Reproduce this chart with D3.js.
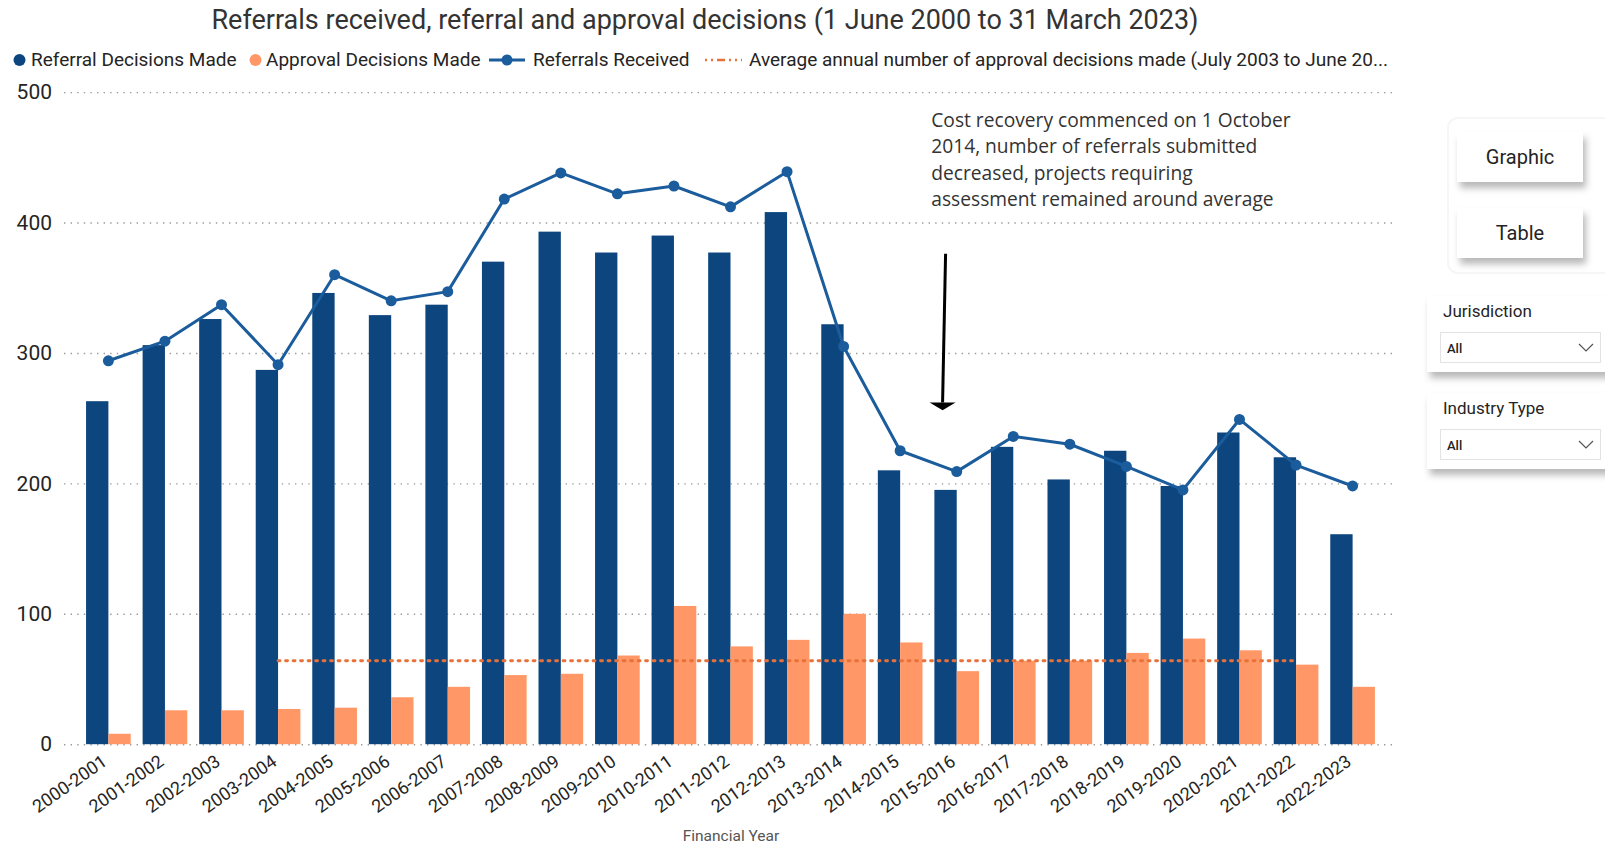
<!DOCTYPE html>
<html>
<head>
<meta charset="utf-8">
<script src="https://cdn.jsdelivr.net/npm/d3@7"></script>
<style>
  html, body { margin: 0; padding: 0; background: #ffffff; }
  svg { display: block; }
</style>
</head>
<body>
<svg id="chart" width="1605" height="847" font-family="Roboto, 'DejaVu Sans', sans-serif"></svg>
<script>
// Financial years shown on the x axis
const categories = [
  "2000-2001","2001-2002","2002-2003","2003-2004","2004-2005","2005-2006",
  "2006-2007","2007-2008","2008-2009","2009-2010","2010-2011","2011-2012",
  "2012-2013","2013-2014","2014-2015","2015-2016","2016-2017","2017-2018",
  "2018-2019","2019-2020","2020-2021","2021-2022","2022-2023"
];
// Referral decisions made per year (dark blue bars)
const referralDecisions = [263,306,326,287,346,329,337,370,393,377,390,377,408,322,210,195,228,203,225,198,239,220,161];
// Approval decisions made per year (orange bars)
const approvalDecisions = [8,26,26,27,28,36,44,53,54,68,106,75,80,100,78,56,64,64,70,81,72,61,44];
// Referrals received per year (line)
const referralsReceived = [294,309,337,291,360,340,347,418,438,422,428,412,439,305,225,209,236,230,213,195,249,214,198];
// Average annual approval decisions, July 2003 to June 2022
const avgApproval = 64;
const avgSpan = ["2003-2004", "2021-2022"];
const yTicks = [0, 100, 200, 300, 400, 500];

const svg = d3.select("#chart");
const colBlue = "#0d467e", colOrange = "#ff9866", colLine = "#1b5c9c", colAvg = "#e8713a";
const textDark = "#252423";

const x = d3.scaleBand().domain(categories).range([64, 1397]).paddingInner(0.21).paddingOuter(0.39);
const y = d3.scaleLinear().domain([0, 500]).range([744.2, 92.1]);
const half = x.bandwidth() / 2;
const cx = c => x(c) + half;

// Title
svg.append("text").attr("x", 705).attr("y", 29).attr("text-anchor", "middle")
  .attr("font-size", 27).attr("fill", "#333").text("Referrals received, referral and approval decisions (1 June 2000 to 31 March 2023)");

// Legend
const lg = svg.append("g").attr("font-size", 19).attr("fill", textDark);
lg.append("circle").attr("cx", 19.5).attr("cy", 60).attr("r", 6).attr("fill", colBlue);
lg.append("text").attr("x", 31).attr("y", 66).text("Referral Decisions Made");
lg.append("circle").attr("cx", 255.5).attr("cy", 60).attr("r", 6).attr("fill", colOrange);
lg.append("text").attr("x", 266).attr("y", 66).text("Approval Decisions Made");
lg.append("line").attr("x1", 489).attr("x2", 525).attr("y1", 60).attr("y2", 60).attr("stroke", colLine).attr("stroke-width", 3);
lg.append("circle").attr("cx", 507).attr("cy", 60).attr("r", 5.5).attr("fill", colLine);
lg.append("text").attr("x", 533).attr("y", 66).text("Referrals Received");
lg.append("line").attr("x1", 705).attr("x2", 742).attr("y1", 60).attr("y2", 60).attr("stroke", colAvg)
  .attr("stroke-width", 2.5).attr("stroke-dasharray", "2,4,2,4,8,4");
lg.append("text").attr("x", 749).attr("y", 66).text("Average annual number of approval decisions made (July 2003 to June 20...");

// Gridlines and y-axis labels
const yAxis = d3.axisLeft(y).tickValues(yTicks).tickSize(-(1397 - 64)).tickPadding(12);
const gy = svg.append("g").attr("transform", "translate(64,0)").call(yAxis);
gy.select(".domain").remove();
gy.selectAll(".tick line").attr("stroke", "#9a9a9a").attr("stroke-width", 1.4).attr("stroke-dasharray", "1.4,5.2");
gy.selectAll(".tick text").attr("font-size", 21).attr("fill", textDark).attr("font-family", "Roboto, sans-serif");

// Bars
const groups = svg.append("g").selectAll("g").data(categories).join("g");
groups.append("rect").attr("x", c => x(c)).attr("width", half)
  .attr("y", (c, i) => y(referralDecisions[i])).attr("height", (c, i) => y(0) - y(referralDecisions[i]))
  .attr("fill", colBlue);
groups.append("rect").attr("x", c => x(c) + half).attr("width", half)
  .attr("y", (c, i) => y(approvalDecisions[i])).attr("height", (c, i) => y(0) - y(approvalDecisions[i]))
  .attr("fill", colOrange);

// Average approval line
svg.append("line").attr("x1", cx(avgSpan[0])).attr("x2", cx(avgSpan[1]))
  .attr("y1", y(avgApproval)).attr("y2", y(avgApproval))
  .attr("stroke", colAvg).attr("stroke-width", 2.8).attr("stroke-linecap", "round").attr("stroke-dasharray", "2,5.5");

// Referrals received line and markers
const line = d3.line().x((d, i) => cx(categories[i])).y(d => y(d));
svg.append("path").datum(referralsReceived).attr("d", line).attr("fill", "none")
  .attr("stroke", colLine).attr("stroke-width", 3).attr("stroke-linejoin", "round");
svg.append("g").selectAll("circle").data(referralsReceived).join("circle")
  .attr("cx", (d, i) => cx(categories[i])).attr("cy", d => y(d)).attr("r", 5.5).attr("fill", colLine);

// X-axis labels
const xAxis = d3.axisBottom(x).tickSize(0).tickPadding(0);
const gx = svg.append("g").attr("transform", `translate(0,${y(0)})`).call(xAxis);
gx.select(".domain").remove();
gx.selectAll(".tick text").attr("font-size", 18).attr("fill", textDark).attr("font-family", "Roboto, sans-serif")
  .attr("text-anchor", "end").attr("dy", 0).attr("y", 0)
  .attr("transform", "translate(0,20) rotate(-35)");

svg.append("text").attr("x", 731).attr("y", 841).attr("text-anchor", "middle")
  .attr("font-size", 15.5).attr("fill", "#555").text("Financial Year");

// Cost recovery annotation
const noteX = cx("2014-2015") + 0.55 * x.step();
const note = svg.append("text").attr("x", noteX).attr("y", 127)
  .attr("font-family", "'Open Sans', 'Noto Sans', sans-serif").attr("font-size", 19.2).attr("fill", "#333");
["Cost recovery commenced on 1 October", "2014, number of referrals submitted",
 "decreased, projects requiring", "assessment remained around average"].forEach((t, i) =>
  note.append("tspan").attr("x", noteX).attr("dy", i === 0 ? 0 : 26.4).text(t));

const arrowX = cx("2015-2016") - 0.25 * x.step();
svg.append("line").attr("x1", arrowX + 3).attr("y1", y(376)).attr("x2", arrowX).attr("y2", y(262))
  .attr("stroke", "#000").attr("stroke-width", 3);
svg.append("path")
  .attr("d", `M${arrowX - 13},${y(262)} L${arrowX + 13},${y(262)} L${arrowX},${y(256)} Z`)
  .attr("fill", "#000");

// Side controls
const defs = svg.append("defs");
const f = defs.append("filter").attr("id", "shadow").attr("x", "-20%").attr("y", "-20%").attr("width", "150%").attr("height", "160%");
f.append("feDropShadow").attr("dx", 3).attr("dy", 6).attr("stdDeviation", 3.5).attr("flood-color", "#000").attr("flood-opacity", 0.28);

svg.append("rect").attr("x", 1448).attr("y", 118).attr("width", 170).attr("height", 155).attr("rx", 10)
  .attr("fill", "none").attr("stroke", "#f6f6f6").attr("stroke-width", 2);

[["Graphic", 132], ["Table", 208]].forEach(([label, top]) => {
  svg.append("rect").attr("x", 1457).attr("y", top).attr("width", 126).attr("height", 50)
    .attr("fill", "#fff").attr("filter", "url(#shadow)");
  svg.append("text").attr("x", 1520).attr("y", top + 32).attr("text-anchor", "middle")
    .attr("font-size", 20).attr("fill", textDark).text(label);
});

[["Jurisdiction", 296], ["Industry Type", 393]].forEach(([label, top]) => {
  svg.append("rect").attr("x", 1427).attr("y", top).attr("width", 185).attr("height", 76)
    .attr("fill", "#fff").attr("filter", "url(#shadow)");
  svg.append("text").attr("x", 1443).attr("y", top + 21).attr("font-size", 17).attr("fill", textDark).text(label);
  svg.append("rect").attr("x", 1440.5).attr("y", top + 36.5).attr("width", 160).attr("height", 30)
    .attr("fill", "#fff").attr("stroke", "#e3e3e3");
  svg.append("text").attr("x", 1447).attr("y", top + 57).attr("font-size", 13).attr("font-weight", 500)
    .attr("fill", textDark).text("All");
  svg.append("path").attr("d", `M1579,${top + 48} L1586,${top + 55} L1593,${top + 48}`)
    .attr("fill", "none").attr("stroke", "#555").attr("stroke-width", 1.2);
});
</script>
</body>
</html>
